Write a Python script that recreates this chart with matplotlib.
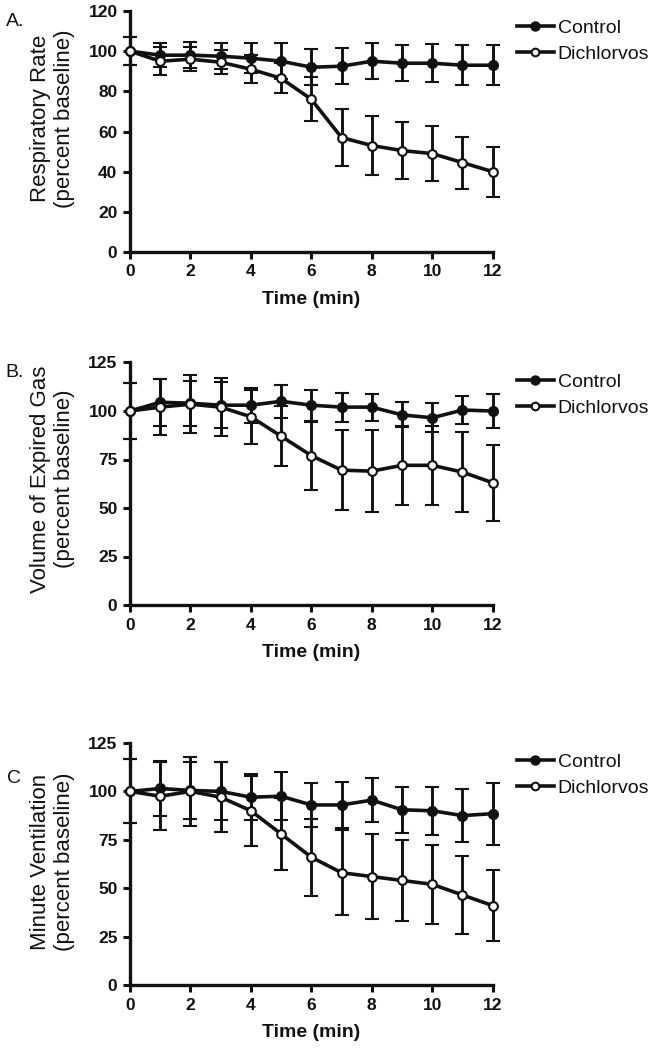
import matplotlib
matplotlib.use("Agg")
import matplotlib.pyplot as plt
from matplotlib.lines import Line2D

plt.rcParams['font.family'] = ['Liberation Sans', 'DejaVu Sans']

time = list(range(13))

# Panel A: Respiratory rate
a_control = [100, 98, 98, 97.5, 96.5, 95, 92, 92.5, 95, 94, 94, 93, 93]
a_control_err = [7, 6, 6.5, 6.5, 7.5, 9, 9, 9, 9, 9, 9.5, 10, 10]
a_dich = [100, 95, 96, 94.5, 91, 86.5, 76, 57, 53, 50.5, 49, 44.5, 40]
a_dich_err = [7, 7, 6, 6, 7, 7.5, 11, 14, 14.5, 14, 13.5, 13, 12.5]

# Panel B: Volume of expired gas
b_control = [100, 104.5, 104, 103, 103, 105, 103, 102, 102, 98, 96.5, 100.5, 100]
b_control_err = [14.5, 12, 11.5, 12, 9, 8.5, 8, 7.5, 7, 6.5, 7.5, 7, 9]
b_dich = [100, 102, 103.5, 102, 97, 87, 77, 69.5, 69, 72, 72, 68.5, 63]
b_dich_err = [14.5, 14.5, 15, 15, 14, 15.5, 17.5, 20.5, 21, 20.5, 20.5, 20.5, 19.5]

# Panel C: Minute ventilation
c_control = [100, 101.5, 100.5, 100, 97, 97.5, 93, 93, 95.5, 90.5, 90, 87.5, 88.5]
c_control_err = [16.5, 14, 14.5, 15, 12, 12.5, 11.5, 12, 11.5, 12, 12.5, 13.5, 16]
c_dich = [100, 97.5, 100, 97, 90, 78, 66, 58, 56, 54, 52, 46.5, 41]
c_dich_err = [16.5, 17.5, 18, 18, 18, 18.5, 20, 22, 22, 21, 20.5, 20, 18.5]

x_ticks = [0, 2, 4, 6, 8, 10, 12]
a_yticks = [0, 20, 40, 60, 80, 100, 120]
bc_yticks = [0, 25, 50, 75, 100, 125]

panel_letters = ["A.", "B.", "C"]
ylabels = ["Respiratory Rate\n(percent baseline)",
           "Volume of Expired Gas\n(percent baseline)",
           "Minute Ventilation\n(percent baseline)"]
xlabel = "Time (min)"
series_labels = ["Control", "Dichlorvos"]

W, H = 653, 1050
fig = plt.figure(figsize=(W / 100, H / 100), dpi=100)

ink = '#111111'
x0, x1 = 130, 492.7
panels = [
    dict(top=11, bot=252, ymax=120, yt=a_yticks, ctrl=a_control, ce=a_control_err,
         dich=a_dich, de=a_dich_err, lab_y=0.554, leg_y=0.875, let_xy=(6, 26)),
    dict(top=362.5, bot=605, ymax=125, yt=bc_yticks, ctrl=b_control, ce=b_control_err,
         dich=b_dich, de=b_dich_err, lab_y=0.52, leg_y=0.866, let_xy=(5, 377)),
    dict(top=743, bot=985, ymax=125, yt=bc_yticks, ctrl=c_control, ce=c_control_err,
         dich=c_dich, de=c_dich_err, lab_y=0.508, leg_y=0.868, let_xy=(7, 783)),
]

for i, p in enumerate(panels):
    ax = fig.add_axes([x0 / W, 1 - p['bot'] / H, (x1 - x0) / W, (p['bot'] - p['top']) / H])
    ax.set_xlim(0, 12)
    ax.set_ylim(0, p['ymax'])
    for s in ['top', 'right']:
        ax.spines[s].set_visible(False)
    for s in ['left', 'bottom']:
        ax.spines[s].set_linewidth(2.4)
        ax.spines[s].set_color(ink)
    ax.set_xticks(x_ticks)
    ax.set_yticks(p['yt'])
    ax.tick_params(axis='both', direction='out', length=5, width=2.2, color=ink,
                   labelsize=12.5, pad=4)
    for lab in ax.get_xticklabels() + ax.get_yticklabels():
        lab.set_fontweight('bold')
        lab.set_color(ink)

    eb1 = ax.errorbar(time, p['ctrl'], yerr=p['ce'], color=ink, lw=2.6, elinewidth=2.1,
                      capsize=4.7, capthick=2.3, marker='o', ms=6.5, mfc=ink, mec=ink,
                      mew=1.5, clip_on=False, zorder=3, label=series_labels[0])
    eb2 = ax.errorbar(time, p['dich'], yerr=p['de'], color=ink, lw=2.6, elinewidth=2.1,
                      capsize=4.7, capthick=2.3, marker='o', ms=6.3, mfc='white', mec=ink,
                      mew=1.5, clip_on=False, zorder=4, label=series_labels[1])
    for eb in (eb1, eb2):
        for c in eb[1]:
            c.set_clip_on(False)
        for c in eb[2]:
            c.set_clip_on(False)

    ax.set_xlabel(xlabel, fontsize=14, fontweight='bold', color=ink, labelpad=8)
    ax.set_ylabel(ylabels[i], fontsize=16, color=ink, linespacing=1.2)
    ax.yaxis.set_label_coords((75 - x0) / (x1 - x0), p['lab_y'])

    h1 = Line2D([], [], color=ink, lw=2.6, marker='o', ms=6, mfc=ink, mec=ink, mew=1.5)
    h2 = Line2D([], [], color=ink, lw=2.6, marker='o', ms=5.5, mfc='white', mec=ink, mew=1.5)
    leg = ax.legend([h1, h2], series_labels, loc='center left',
                    bbox_to_anchor=((517 - x0) / (x1 - x0), p['leg_y']),
                    frameon=False, fontsize=14, handlelength=1.9, handletextpad=0.2,
                    borderpad=0, borderaxespad=0, labelspacing=0.45)
    for t in leg.get_texts():
        t.set_color(ink)

    fig.text(p['let_xy'][0] / W, 1 - p['let_xy'][1] / H, panel_letters[i],
             fontsize=14, color=ink, ha='left', va='baseline')

fig.savefig("out.png", dpi=100)
